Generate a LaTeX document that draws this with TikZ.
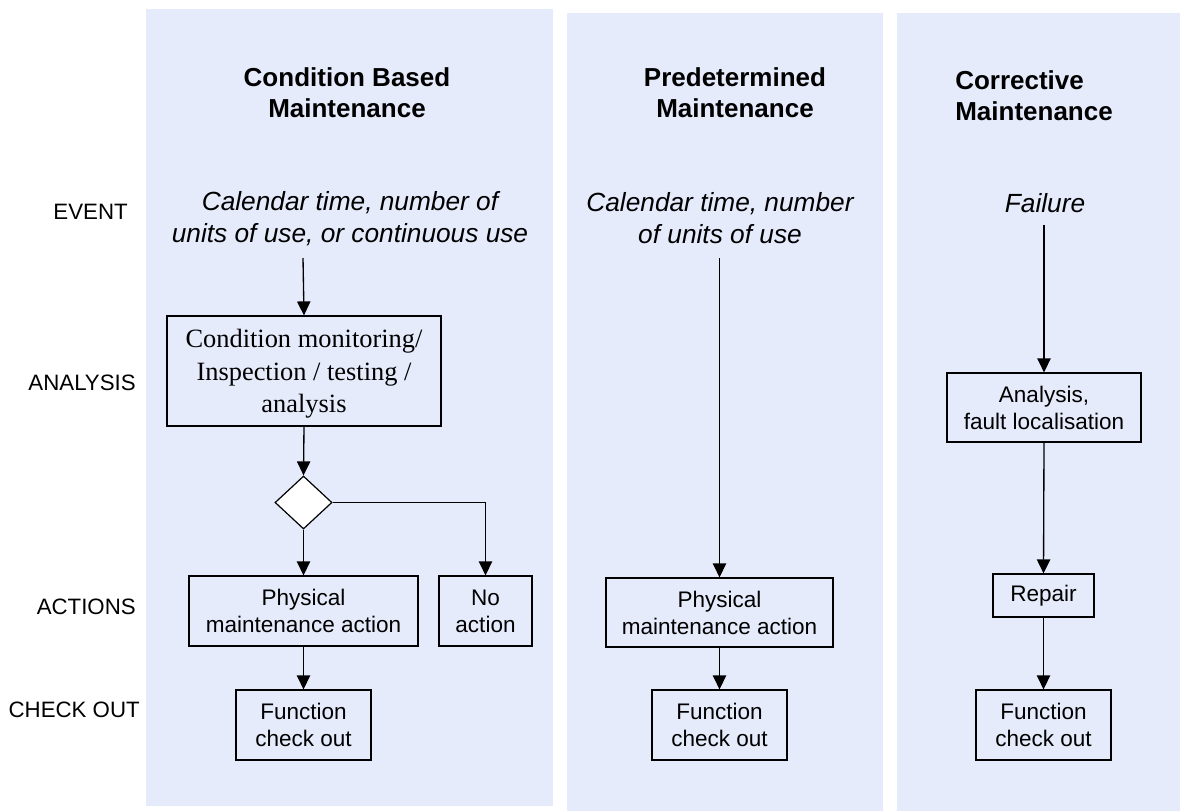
\documentclass[tikz,border=0pt]{standalone}
\usepackage{fontspec}
\setmainfont{Liberation Sans}
\newfontfamily\timesfont{Liberation Serif}
\usepackage{tikz}
\usetikzlibrary{positioning}
\usetikzlibrary{shapes.geometric, arrows.meta}
\definecolor{panelblue}{RGB}{230,235,252}
\tikzstyle{arrow} = [line width=1pt,-{Triangle[length=10.5pt,width=10pt]}]
\tikzstyle{panel} = [fill=panelblue,draw=none]
\tikzstyle{stepbox} = [draw,line width=0.9pt,inner sep=0pt,align=center,font=\fontsize{16.9pt}{20.25pt}\selectfont]
\tikzstyle{heading} = [align=center,font=\fontsize{19.5pt}{23.25pt}\selectfont\bfseries]
\tikzstyle{event} = [align=center,font=\fontsize{19.7pt}{24pt}\selectfont\itshape]
\tikzstyle{rowlabel} = [anchor=east,inner sep=0pt,font=\fontsize{16.7pt}{20pt}\selectfont]

\begin{document}
\begin{tikzpicture}[x=0.75pt,y=-0.75pt]
\useasboundingbox (0,0) rectangle (1180,811);

%Panels
\fill[panel] (146,9) rectangle (553,806);
\fill[panel] (567,13) rectangle (883,811);
\fill[panel] (897,13) rectangle (1180,811);

%Row labels
\node[rowlabel] (lEvent) at (128,212) {EVENT};
\node[rowlabel] (lAnalysis) at (136,383) {ANALYSIS};
\node[rowlabel] (lActions) at (136,607) {ACTIONS};
\node[rowlabel] (lCheck) at (140,710) {CHECK OUT};

%Headings
\node[heading] (hCond) at (347,92.5) {Condition Based\\Maintenance};
\node[heading] (hPre) at (735,92.5) {Predetermined\\Maintenance};
\node[heading,align=left,anchor=west,inner sep=0pt] (hCorr) at (955,96) {Corrective\\Maintenance};

%Events
\node[event] (evCond) at (350,219) {Calendar time, number of\\units of use, or continuous use};
\node[event] (evPre) at (720,218) {Calendar time, number\\of units of use};
\node[event] (evCorr) at (1045,203) {Failure};
\coordinate (sCond) at (303,258);
\coordinate (sPre) at (719.5,258);
\coordinate (sCorr) at (1044,225);

%Condition based column
\node[stepbox,minimum width=205.5pt,minimum height=82.5pt,text depth=0pt,font=\timesfont\fontsize{19.8pt}{24.4pt}\selectfont] (monitor) at (304,371) {Condition monitoring/\\Inspection / testing /\\analysis};
\node[diamond,draw,fill=white,line width=0.9pt,inner sep=0pt,minimum width=42.75pt,minimum height=39.75pt] (decide) at (303.5,502.5) {};
\node[stepbox,minimum width=171.75pt,minimum height=52.5pt] (actCond) at (303.5,611) {Physical\\maintenance action};
\node[stepbox,minimum width=69.75pt,minimum height=52.5pt] (noAct) at (485.5,611) {No\\action};
\node[stepbox,minimum width=101.25pt,minimum height=52.5pt] (chkCond) at (303.5,725) {Function\\check out};

%Predetermined column
\node[stepbox,minimum width=170.25pt,minimum height=51.75pt] (actPre) at (719.5,612.5) {Physical\\maintenance action};
\node[stepbox,minimum width=101.25pt,minimum height=52.5pt] (chkPre) at (719.5,725) {Function\\check out};

%Corrective column
\node[stepbox,minimum width=145.5pt,minimum height=51.75pt] (fault) at (1044,407.5) {Analysis,\\fault localisation};
\node[stepbox,minimum width=75.75pt,minimum height=32.25pt] (repair) at (1043.5,595.5) {Repair};
\node[stepbox,minimum width=101.25pt,minimum height=52.5pt] (chkCorr) at (1043.5,725) {Function\\check out};

%Lines
\draw[arrow] (sCond) -- (monitor.north);
\draw[arrow] (monitor.south) -- (decide.north);
\draw[arrow] (decide.south) -- (actCond.north);
\draw[arrow] (decide.east) -| (noAct.north);
\draw[arrow] (actCond.south) -- (chkCond.north);

\draw[arrow] (sPre) -- (actPre.north);
\draw[arrow] (actPre.south) -- (chkPre.north);

\draw[arrow] (sCorr) -- (fault.north);
\draw[arrow] (fault.south) -- (repair.north);
\draw[arrow] (repair.south) -- (chkCorr.north);

\end{tikzpicture}
\end{document}
